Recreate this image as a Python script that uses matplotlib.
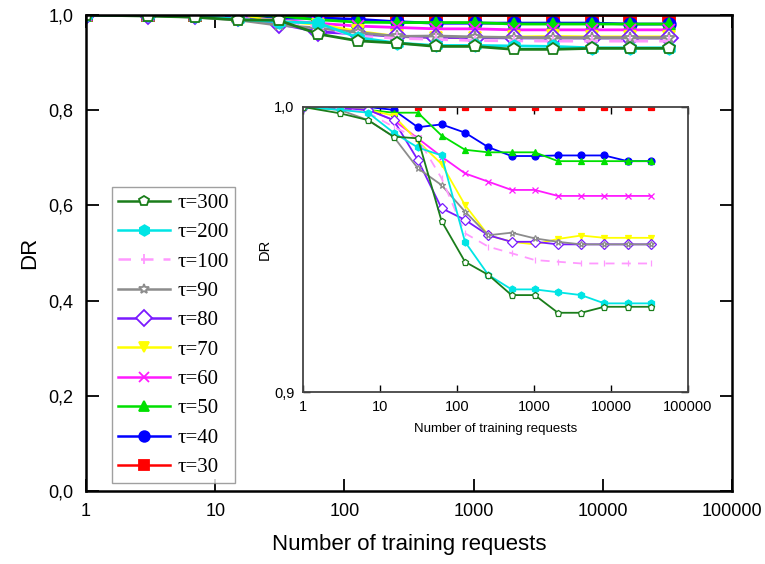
import matplotlib
matplotlib.use("Agg")
import matplotlib.pyplot as plt
from matplotlib.ticker import FixedLocator, FuncFormatter, NullLocator

# ---- data ----
x = [1, 3, 7, 15, 31, 63, 127, 255, 511, 1023, 2047, 4095, 8191, 16383, 32767]
tau30 = [1.0, 1.0, 1.0, 1.0, 1.0, 1.0, 1.0, 1.0, 1.0, 1.0, 1.0, 1.0, 1.0, 1.0, 1.0]
tau40 = [1.0, 1.0, 1.0, 0.999, 0.9929, 0.9939, 0.9910, 0.9859, 0.9828, 0.9828, 0.9830, 0.9830, 0.9830, 0.9810, 0.9810]
tau50 = [1.0, 1.0, 0.999, 0.998, 0.998, 0.990, 0.985, 0.9841, 0.9841, 0.9841, 0.981, 0.981, 0.981, 0.981, 0.981]
tau60 = [1.0, 0.9995, 0.999, 0.9954, 0.989, 0.9826, 0.9767, 0.9738, 0.9709, 0.9709, 0.9688, 0.9688, 0.9688, 0.9688, 0.9688]
tau70 = [1.0, 0.9995, 0.999, 0.997, 0.988, 0.980, 0.9656, 0.955, 0.9527, 0.9518, 0.9537, 0.9549, 0.9541, 0.9541, 0.9541]
tau80 = [1.0, 0.9995, 0.999, 0.9954, 0.9814, 0.9645, 0.9604, 0.955, 0.9527, 0.9527, 0.9518, 0.9518, 0.9518, 0.9518, 0.9518]
tau90 = [1.0, 0.999, 0.9954, 0.9896, 0.9785, 0.9726, 0.9633, 0.955, 0.9559, 0.9539, 0.9527, 0.9518, 0.9518, 0.9518, 0.9518]
tau100 = [1.0, 0.9995, 0.998, 0.993, 0.989, 0.975, 0.9557, 0.951, 0.9487, 0.9463, 0.9457, 0.9451, 0.9451, 0.9451, 0.9451]
tau200 = [1.0, 0.999, 0.998, 0.991, 0.9858, 0.983, 0.9527, 0.9411, 0.936, 0.936, 0.935, 0.934, 0.9311, 0.9311, 0.9311]
tau300 = [1.0, 0.9978, 0.9954, 0.9896, 0.989, 0.960, 0.9457, 0.9411, 0.934, 0.934, 0.9278, 0.9278, 0.9299, 0.9299, 0.9299]

labels = ["τ=300", "τ=200", "τ=100", "τ=90", "τ=80", "τ=70", "τ=60", "τ=50", "τ=40", "τ=30"]
series = [tau300, tau200, tau100, tau90, tau80, tau70, tau60, tau50, tau40, tau30]
xticks = [1, 10, 100, 1000, 10000, 100000]
xticklabels = ["1", "10", "100", "1000", "10000", "100000"]
main_yticks = [0.0, 0.2, 0.4, 0.6, 0.8, 1.0]
inset_yticks = [0.9, 1.0]

# ---- styles ----
styles = [
    dict(color="#1a7d1a", marker="p", mfc="white", ls="-"),
    dict(color="#00e5e5", marker="h", mfc="#00e5e5", ls="-"),
    dict(color="#ff99ff", marker="|", mfc="#ff99ff", ls=(0, (5, 4))),
    dict(color="#8c8c8c", marker="*", mfc="white", ls="-"),
    dict(color="#7a1aff", marker="D", mfc="white", ls="-"),
    dict(color="#ffff00", marker="v", mfc="#ffff00", ls="-"),
    dict(color="#ff1aff", marker="x", mfc="#ff1aff", ls="-"),
    dict(color="#00e000", marker="^", mfc="#00e000", ls="-"),
    dict(color="#0000ff", marker="o", mfc="#0000ff", ls="-"),
    dict(color="#ff0000", marker="s", mfc="#ff0000", ls="-"),
]

fmt_comma = FuncFormatter(lambda v, p: f"{v:.1f}".replace(".", ","))

fig = plt.figure(figsize=(7.65, 5.64), dpi=100)
sans = "Liberation Sans"

ax = fig.add_axes([86/765, 1-491/564, (732-86)/765, (491-15)/564])
handles = []
for ys, st, lab in reversed(list(zip(series, styles, labels))):
    h, = ax.plot(x, ys, color=st["color"], ls=st["ls"], lw=2.0, marker=st["marker"],
                 mfc=st["mfc"], mec=st["color"], ms=9, mew=1.3, label=lab)
    handles.append(h)
handles = handles[::-1]

ax.set_xscale("log")
ax.set_xlim(1, 100000)
ax.set_ylim(0, 1.0)
ax.xaxis.set_major_locator(FixedLocator(xticks))
ax.xaxis.set_minor_locator(NullLocator())
ax.set_xticklabels(xticklabels)
ax.yaxis.set_major_locator(FixedLocator(main_yticks))
ax.yaxis.set_major_formatter(fmt_comma)
ax.tick_params(direction="in", length=9, width=1.3, top=True, right=True,
               labelsize=13, pad=9)
for lbl in ax.get_xticklabels() + ax.get_yticklabels():
    lbl.set_fontfamily(sans)
for s in ax.spines.values():
    s.set_linewidth(1.8)
ax.set_xlabel("Number of training requests", fontsize=16, fontfamily=sans, labelpad=10)
ax.set_ylabel("DR", fontsize=16, fontfamily=sans, labelpad=6)

leg = fig.legend(handles=handles, labels=labels, loc="upper left",
                 bbox_to_anchor=(112/765, 1-187/564), frameon=True, fancybox=False,
                 prop={"family": "Liberation Serif", "size": 15},
                 handlelength=2.5, labelspacing=0.47, borderpad=0.3, handletextpad=0.35,
                 borderaxespad=0, markerscale=0.85)
leg.get_frame().set_edgecolor("#888888")
leg.get_frame().set_linewidth(1.0)
for h in leg.legend_handles:
    h.set_linewidth(1.8)

# ---- inset ----
ins = fig.add_axes([303/765, 1-392/564, (688-303)/765, (392-107)/564])
for ys, st, lab in reversed(list(zip(series, styles, labels))):
    ins.plot(x, ys, color=st["color"], ls=st["ls"], lw=1.3, marker=st["marker"],
             mfc=st["mfc"], mec=st["color"], ms=5, mew=0.9)
ins.set_xscale("log")
ins.set_xlim(1, 100000)
ins.set_ylim(0.9, 1.0)
ins.xaxis.set_major_locator(FixedLocator(xticks))
ins.xaxis.set_minor_locator(NullLocator())
ins.set_xticklabels(xticklabels)
ins.yaxis.set_major_locator(FixedLocator(inset_yticks))
ins.yaxis.set_major_formatter(fmt_comma)
ins.tick_params(direction="in", length=5, width=1.0, top=True, right=True,
                labelsize=10.5, pad=6)
for lbl in ins.get_xticklabels() + ins.get_yticklabels():
    lbl.set_fontfamily(sans)
for s in ins.spines.values():
    s.set_linewidth(1.3)
    s.set_color("#444444")
ins.set_xlabel("Number of training requests", fontsize=9.5, fontfamily=sans, labelpad=6)
ins.set_ylabel("DR", fontsize=10.5, fontfamily=sans, labelpad=2)

fig.savefig("out.png", dpi=100)
